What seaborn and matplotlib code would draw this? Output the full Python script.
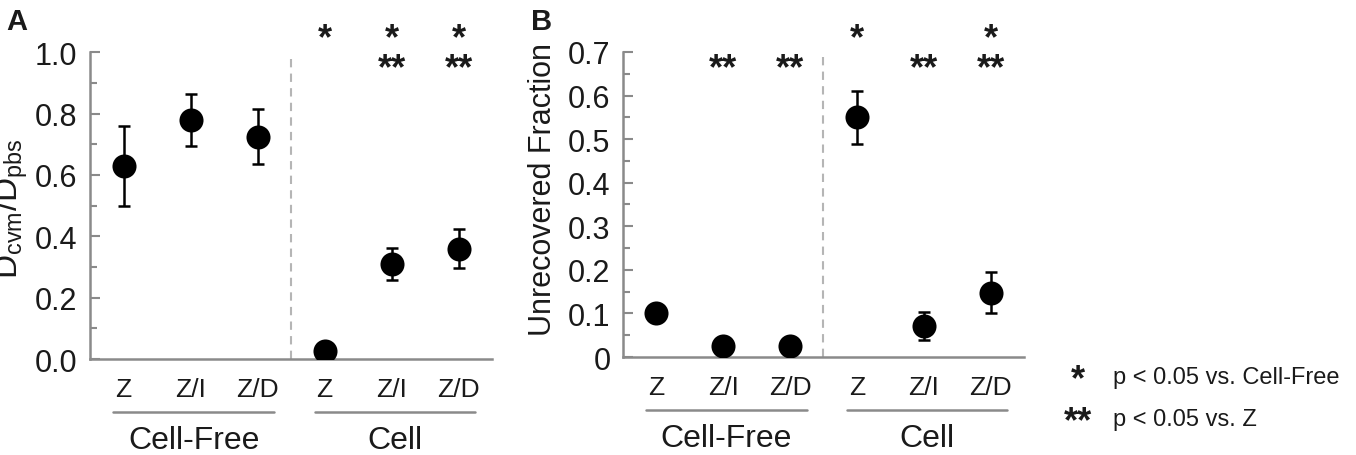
import matplotlib
matplotlib.use('Agg')
import matplotlib.pyplot as plt
import matplotlib.transforms as mtransforms
import numpy as np
import pandas as pd
import seaborn as sns

# Data
groups = ['Cell-Free', 'Cell']
conditions = ['Z', 'Z/I', 'Z/D']

# Panel A: Dcvm/Dpbs
a_mean = [0.63, 0.78, 0.725, 0.025, 0.31, 0.36]
a_err = [0.13, 0.085, 0.09, 0.0, 0.053, 0.065]
a_star1 = [False, False, False, True, True, True]     # * p<0.05 vs Cell-Free
a_star2 = [False, False, False, False, True, True]    # ** p<0.05 vs Z

# Panel B: unrecovered fraction
b_mean = [0.10, 0.025, 0.025, 0.55, 0.072, 0.147]
b_err = [0.0, 0.0, 0.0, 0.061, 0.032, 0.047]
b_star1 = [False, False, False, True, False, True]
b_star2 = [False, True, True, False, True, True]

a_yticks = [0.0, 0.2, 0.4, 0.6, 0.8, 1.0]
a_yticklabels = ['0.0', '0.2', '0.4', '0.6', '0.8', '1.0']
b_yticks = [0.0, 0.1, 0.2, 0.3, 0.4, 0.5, 0.6, 0.7]
b_yticklabels = ['0', '0.1', '0.2', '0.3', '0.4', '0.5', '0.6', '0.7']

sns.set_theme(style='ticks')
plt.rcParams['font.family'] = ['Liberation Sans', 'DejaVu Sans']
plt.rcParams['mathtext.fontset'] = 'custom'
plt.rcParams['mathtext.rm'] = 'Liberation Sans'
plt.rcParams['mathtext.it'] = 'Liberation Sans:italic'

TXT = '#1a1a1a'
SPINE = '#8a8a8a'


def draw_panel(ax, mean, err, star1, star2, yticks, yticklabels, minor_step):
    df = pd.DataFrame({
        'pos': np.arange(6),
        'mean': mean,
        'err': err,
        'cond': conditions * 2,
        'group': np.repeat(groups, 3),
    })
    ax.errorbar(df['pos'], df['mean'], yerr=df['err'], fmt='none', ecolor='black',
                elinewidth=1.8, capsize=4.5, capthick=1.8, zorder=2)
    sns.scatterplot(data=df, x='pos', y='mean', color='black', s=300,
                    linewidth=0, ax=ax, zorder=3, legend=False)

    ymax = yticks[-1]
    ax.set_xlim(-0.5, 5.5)
    ax.set_ylim(0, ymax)
    ax.axvline(2.5, ymin=0, ymax=0.99, color='#b5b5b5', ls=(0, (4, 3)), lw=1.5, zorder=1)

    for s in ['top', 'right']:
        ax.spines[s].set_visible(False)
    for s in ['left', 'bottom']:
        ax.spines[s].set_color(SPINE)
        ax.spines[s].set_linewidth(1.8)

    ax.set_xticks(df['pos'])
    ax.set_xticklabels(df['cond'], fontsize=19, color=TXT)
    ax.tick_params(axis='x', length=0, pad=13)
    ax.set_yticks(yticks)
    ax.set_yticklabels(yticklabels, fontsize=22, color=TXT)
    ax.set_yticks(np.arange(0, ymax + 1e-9, minor_step), minor=True)
    ax.tick_params(axis='y', which='both', direction='in', color=SPINE, width=1.5, pad=9)
    ax.tick_params(axis='y', which='major', length=7)
    ax.tick_params(axis='y', which='minor', length=5)
    ax.set_xlabel('')
    ax.set_ylabel('')

    trans = mtransforms.blended_transform_factory(ax.transData, ax.transAxes)
    for p, s1, s2 in zip(df['pos'], star1, star2):
        if s1:
            ax.text(p, 1.045, '*', ha='center', va='center', fontsize=26, fontweight='bold',
                    color=TXT, transform=trans, clip_on=False)
        if s2:
            ax.text(p, 0.945, '**', ha='center', va='center', fontsize=26, fontweight='bold',
                    color=TXT, transform=trans, clip_on=False)

    for i, g in enumerate(groups):
        c = 1 + 3 * i + 0.05
        ax.plot([c - 1.2, c + 1.2], [-0.173, -0.173], color=SPINE, lw=1.8,
                transform=trans, clip_on=False)
        ax.text(c, -0.265, g, ha='center', va='center', fontsize=23, color=TXT,
                transform=trans, clip_on=False)


fig = plt.figure(figsize=(13.56, 4.56), dpi=100)
axA = fig.add_axes([0.0664, 0.2105, 0.2965, 0.673])
axB = fig.add_axes([0.4594, 0.2149, 0.2957, 0.669])

draw_panel(axA, a_mean, a_err, a_star1, a_star2, a_yticks, a_yticklabels, 0.1)
draw_panel(axB, b_mean, b_err, b_star1, b_star2, b_yticks, b_yticklabels, 0.05)

fig.text(6 / 1356, 1 - 8 / 456, 'A', fontsize=21, fontweight='bold', va='top', ha='left', color=TXT)
fig.text(531 / 1356, 1 - 8 / 456, 'B', fontsize=21, fontweight='bold', va='top', ha='left', color=TXT)

fig.text(11 / 1356, 1 - 209 / 456, r'$\mathregular{D_{cvm}/D_{pbs}}$', rotation=90,
         ha='center', va='center', fontsize=24, color=TXT)
fig.text(543 / 1356, 1 - 190 / 456, 'Unrecovered Fraction', rotation=90,
         ha='center', va='center', fontsize=22, color=TXT)

# significance key
fig.text(1078 / 1356, 1 - 381 / 456, '*', ha='center', va='center', fontsize=26,
         fontweight='bold', color=TXT)
fig.text(1078 / 1356, 1 - 423 / 456, '**', ha='center', va='center', fontsize=26,
         fontweight='bold', color=TXT)
fig.text(1113 / 1356, 1 - 378 / 456, 'p < 0.05 vs. Cell-Free', ha='left', va='center', fontsize=17, color=TXT)
fig.text(1113 / 1356, 1 - 420 / 456, 'p < 0.05 vs. Z', ha='left', va='center', fontsize=17, color=TXT)

fig.savefig('out.png', dpi=100)
